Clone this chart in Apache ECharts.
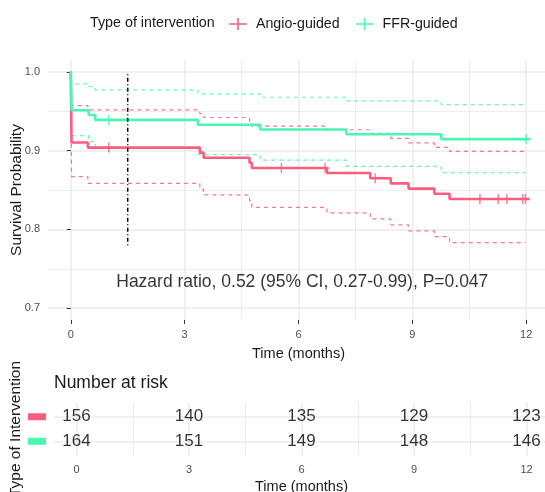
<!DOCTYPE html>
<html>
<head>
<meta charset="utf-8">
<script src="https://cdn.jsdelivr.net/npm/echarts@6/dist/echarts.min.js"></script>
<style>
  html, body { margin: 0; padding: 0; background: #fff; }
  #chart { width: 545px; height: 492px; }
</style>
</head>
<body>
<div id="chart"></div>
<script>
// Kaplan-Meier steps (time in months, survival probability)
const angioTime  = [0, 0.02, 0.45, 3.4, 3.5, 4.71, 4.77, 6.75, 7.89, 8.43, 8.9, 9.58, 9.98, 12.08]
const angioSurv  = [1, 0.9103, 0.9038, 0.8974, 0.8909, 0.8845, 0.878, 0.8715, 0.865, 0.8584, 0.8518, 0.8452, 0.8386, 0.8386]
const angioUpper = [1, 0.957, 0.9517, 0.947, 0.942, 0.9365, 0.931, 0.9265, 0.9218, 0.9156, 0.9098, 0.9042, 0.899, 0.899]
const angioLower = [1, 0.867, 0.8585, 0.851, 0.8437, 0.8365, 0.828, 0.821, 0.8133, 0.8057, 0.798, 0.7909, 0.7832, 0.7832]
const angioCensor = [1.0, 5.55, 6.7, 8.02, 10.78, 11.26, 11.49, 11.91, 11.98]

const ffrTime  = [0, 0.02, 0.47, 0.645, 3.35, 4.99, 7.26, 9.76, 12.08]
const ffrSurv  = [1, 0.9512, 0.9451, 0.939, 0.9329, 0.9268, 0.9207, 0.9146, 0.9146]
const ffrUpper = [1, 0.9847, 0.9812, 0.977, 0.972, 0.9677, 0.963, 0.9584, 0.9584]
const ffrLower = [1, 0.919, 0.9114, 0.9034, 0.895, 0.8878, 0.88, 0.872, 0.872]
const ffrCensor = [1.0, 12.0]

const ciEnd = 11.98

// landmark line
const landmarkX = 1.5
const landmarkY = [0.78, 1.0]

// number at risk
const riskMonths = [0, 3, 6, 9, 12]
const riskAngio = [156, 140, 135, 129, 123]
const riskFFR = [164, 151, 149, 148, 146]

const yTicks = [0.7, 0.8, 0.9, 1.0]
const yMinor = [0.75, 0.85, 0.95]
const xTicks = [0, 3, 6, 9, 12]
const xMinorMain = [4.5, 7.5, 10.5]
const xMinorTable = [1.5, 4.5, 7.5, 10.5]

const hrText = 'Hazard ratio, 0.52 (95% CI, 0.27-0.99), P=0.047'
const hrPos = [6.1, 0.733]

const RED = '#FB5D7F'
const GREEN = '#48F7B0'
const FONT = '"Liberation Sans", Arial, sans-serif'
const PLUS = 'path://M4.2,0h1.6v10h-1.6z M0,4.2h10v1.6h-10z'
const KEY_PLUS = 'path://M0,5.2h18v1.6h-18z M8.2,0h1.6v12h-1.6z'

function pairs(t, v, lastT) {
    return t.map((x, i) => [(lastT != null && i === t.length - 1) ? lastT : x, v[i]])
}
function survAt(t, v, x) {
    let s = v[0]
    t.forEach((tt, i) => { if (tt <= x) s = v[i] })
    return s
}

const gridLine = (w) => ({ show: true, lineStyle: { color: '#EBEBEB', width: w } })
const hidden = { show: false }

let myChart = echarts.init(document.getElementById('chart'))

function kmLine(name, t, v, color) {
    return {
        name: name, type: 'line', step: 'end', data: pairs(t, v),
        symbol: 'none', xAxisIndex: 0, yAxisIndex: 0,
        itemStyle: { color: color },
        lineStyle: { color: color, width: 2.6 },
        z: 4
    }
}
function ciLine(name, t, v, color) {
    return {
        name: name, type: 'line', step: 'end', data: pairs(t, v, ciEnd),
        symbol: 'none', xAxisIndex: 0, yAxisIndex: 0,
        itemStyle: { color: color },
        lineStyle: { color: color, width: 1.2, type: [4, 4], opacity: 0.85 },
        z: 3
    }
}
function censor(name, times, t, v, color) {
    return {
        name: name, type: 'scatter', xAxisIndex: 0, yAxisIndex: 0,
        data: times.map(x => [x, survAt(t, v, x)]),
        symbol: PLUS, symbolSize: [9, 10],
        itemStyle: { color: color }, z: 5
    }
}
function riskRow(name, counts, row) {
    return {
        name: name, type: 'scatter', xAxisIndex: 1, yAxisIndex: 2,
        data: counts.map((c, i) => [riskMonths[i], row, c]),
        symbolSize: 1, itemStyle: { color: 'transparent' },
        label: {
            show: true, position: 'inside', color: '#000', fontSize: 17, fontFamily: FONT,
            formatter: p => p.value[2]
        }
    }
}

let option = {
    animation: false,
    backgroundColor: '#FFFFFF',
    textStyle: { fontFamily: FONT },
    title: [{
        text: 'Type of intervention', left: 90, top: 16, padding: 0,
        textStyle: { fontSize: 14.3, fontWeight: 'normal', color: '#1A1A1A', fontFamily: FONT }
    }, {
        text: 'Number at risk', left: 54, top: 374, padding: 0,
        textStyle: { fontSize: 17.5, fontWeight: 'normal', color: '#1A1A1A', fontFamily: FONT }
    }],
    legend: {
        data: ['Angio-guided', 'FFR-guided'],
        left: 229, top: 17, padding: 0,
        icon: KEY_PLUS, itemWidth: 18, itemHeight: 12, itemGap: 16,
        textStyle: { fontSize: 14.2, color: '#1A1A1A', fontFamily: FONT, padding: [0, 0, 0, 4] }
    },
    grid: [
        { left: 48, top: 60, width: 501, height: 260, outerBoundsMode: 'none', containLabel: false },
        { left: 54, top: 402, width: 495, height: 54, outerBoundsMode: 'none', containLabel: false }
    ],
    xAxis: [{
        type: 'value', gridIndex: 0, min: -0.6, max: 12.6,
        name: 'Time (months)', nameLocation: 'middle', nameGap: 26,
        nameTextStyle: { fontSize: 14.5, color: '#1A1A1A' },
        axisLine: hidden,
        axisTick: { show: true, length: 4, customValues: xTicks, lineStyle: { color: '#333', width: 1 } },
        axisLabel: { customValues: xTicks, margin: 9, fontSize: 11, color: '#4D4D4D' },
        splitLine: gridLine(1.5)
    }, {
        type: 'value', gridIndex: 1, min: -0.6, max: 12.6,
        name: 'Time (months)', nameLocation: 'middle', nameGap: 23.5,
        nameTextStyle: { fontSize: 14.5, color: '#1A1A1A' },
        axisLine: hidden,
        axisTick: { show: false, customValues: xTicks },
        axisLabel: { customValues: xTicks, margin: 8, fontSize: 11, color: '#4D4D4D' },
        splitLine: gridLine(1.5)
    }, {
        type: 'value', gridIndex: 0, min: -0.6, max: 12.6,
        axisLine: hidden, axisLabel: hidden,
        axisTick: { show: false, customValues: xMinorMain },
        splitLine: gridLine(0.9)
    }, {
        type: 'value', gridIndex: 1, min: -0.6, max: 12.6,
        axisLine: hidden, axisLabel: hidden,
        axisTick: { show: false, customValues: xMinorTable },
        splitLine: gridLine(0.9)
    }],
    yAxis: [{
        type: 'value', gridIndex: 0, min: 0.685, max: 1.015,
        name: 'Survival Probability', nameLocation: 'middle', nameRotate: 90, nameGap: 23,
        nameMoveOverlap: false,
        nameTextStyle: { fontSize: 15.5, color: '#1A1A1A' },
        axisLine: hidden,
        axisTick: { show: true, length: 4, customValues: yTicks, lineStyle: { color: '#333', width: 1 } },
        axisLabel: { customValues: yTicks, margin: 8, fontSize: 11, color: '#4D4D4D', formatter: v => v.toFixed(1) },
        splitLine: gridLine(1.5)
    }, {
        type: 'value', gridIndex: 0, min: 0.685, max: 1.015,
        axisLine: hidden, axisLabel: hidden,
        axisTick: { show: false, customValues: yMinor },
        splitLine: gridLine(0.9)
    }, {
        type: 'value', gridIndex: 1, min: 0.4, max: 2.6,
        name: 'Type of Intervention', nameLocation: 'middle', nameRotate: 90, nameGap: 30,
        nameMoveOverlap: false,
        nameTextStyle: { fontSize: 15.5, color: '#1A1A1A' },
        axisLine: hidden,
        axisTick: { show: false, customValues: [1, 2] },
        axisLabel: {
            customValues: [1, 2], margin: 8,
            formatter: v => (v === 2 ? '{a|}' : '{b|}'),
            rich: {
                a: { width: 18, height: 7, backgroundColor: RED },
                b: { width: 18, height: 7, backgroundColor: GREEN }
            }
        },
        splitLine: gridLine(1.5)
    }],
    series: [
        ciLine('angioUpper', angioTime, angioUpper, RED),
        ciLine('angioLower', angioTime, angioLower, RED),
        ciLine('ffrUpper', ffrTime, ffrUpper, GREEN),
        ciLine('ffrLower', ffrTime, ffrLower, GREEN),
        kmLine('Angio-guided', angioTime, angioSurv, RED),
        kmLine('FFR-guided', ffrTime, ffrSurv, GREEN),
        censor('angioCensor', angioCensor, angioTime, angioSurv, RED),
        censor('ffrCensor', ffrCensor, ffrTime, ffrSurv, GREEN),
        {
            name: 'landmark', type: 'line', xAxisIndex: 0, yAxisIndex: 0,
            data: landmarkY.map(y => [landmarkX, y]), symbol: 'none',
            lineStyle: { color: '#000', width: 1.5, type: [1, 2.5, 4, 2.5] }, z: 6
        },
        {
            name: 'hr', type: 'scatter', xAxisIndex: 0, yAxisIndex: 0,
            data: [hrPos], symbolSize: 1, itemStyle: { color: 'transparent' },
            label: { show: true, position: 'inside', formatter: hrText, fontSize: 17.5, color: '#000', fontFamily: FONT }
        },
        riskRow('riskAngio', riskAngio, 2),
        riskRow('riskFFR', riskFFR, 1)
    ]
}
myChart.setOption(option)
</script>
</body>
</html>
